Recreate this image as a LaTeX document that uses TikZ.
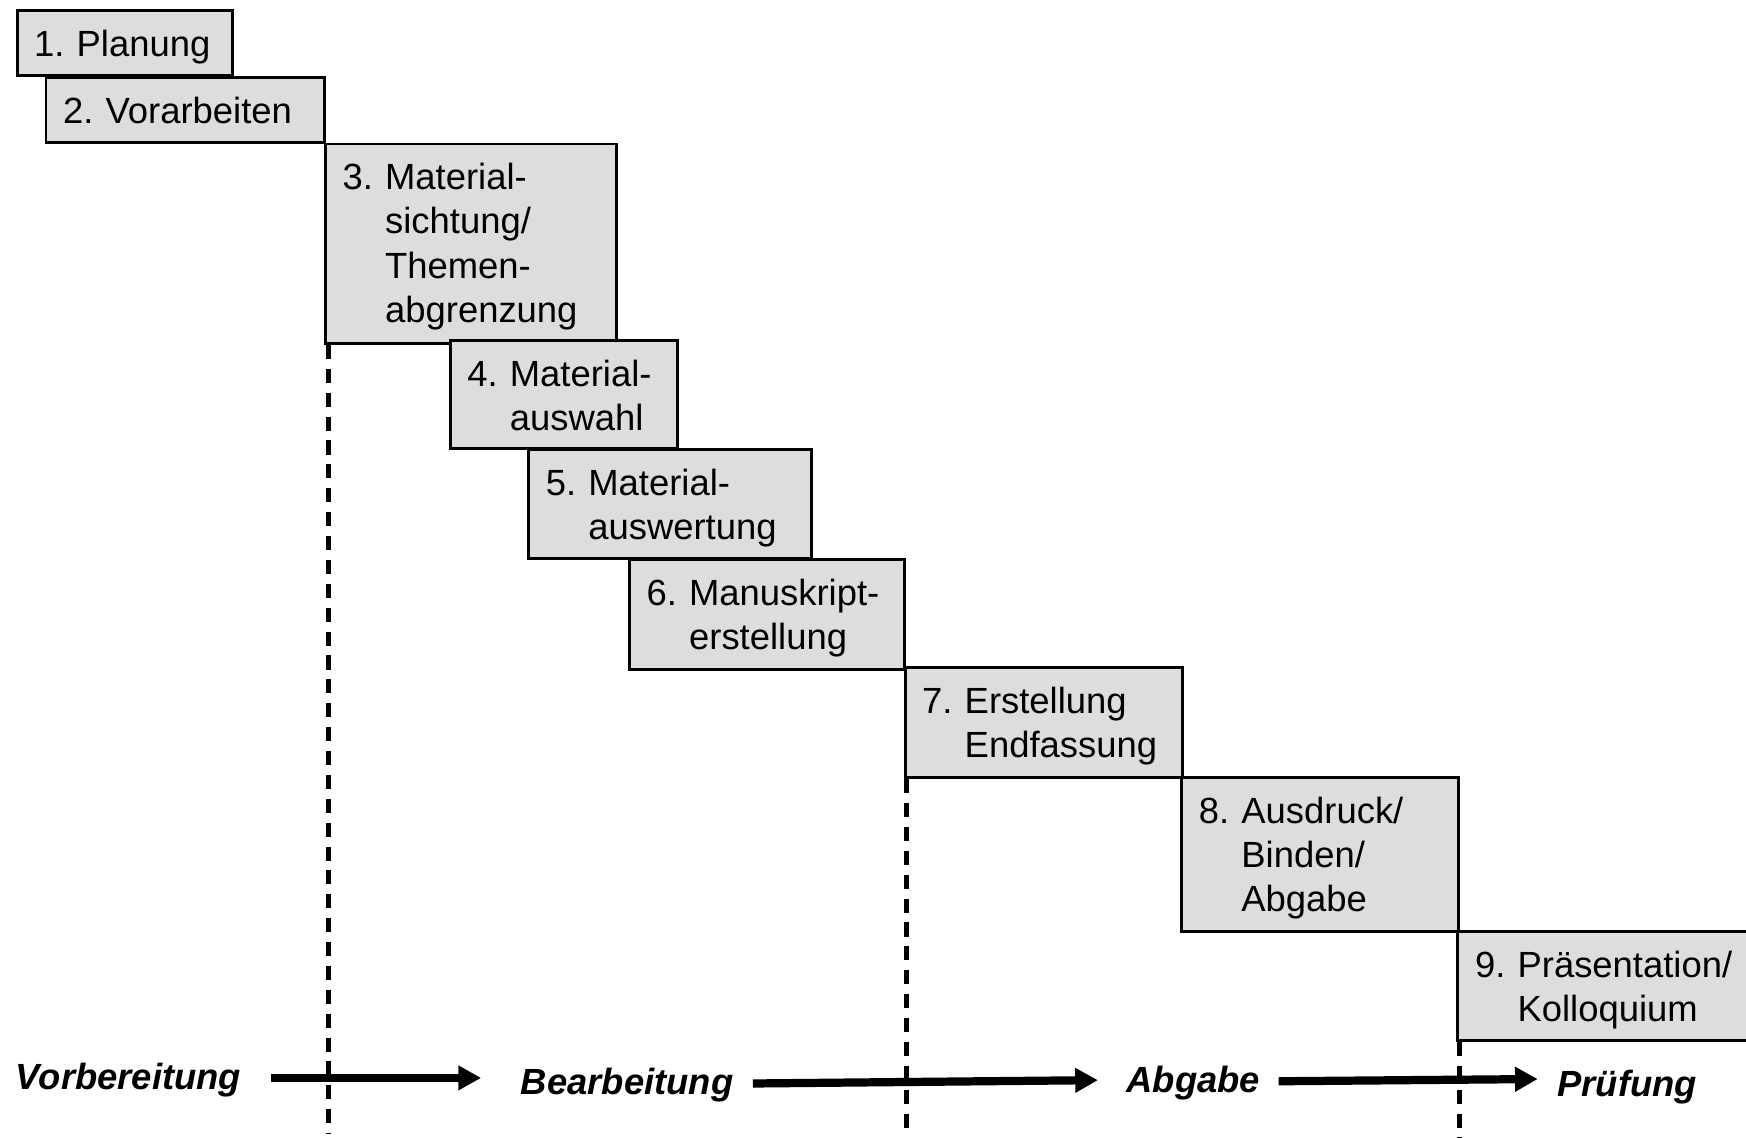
\documentclass[tikz,border=0pt]{standalone}
\usepackage{fontspec}
\setmainfont{Liberation Sans}
\usetikzlibrary{arrows.meta,calc}
\definecolor{boxgray}{RGB}{221,221,221}
\newcommand\stepfont{\frenchspacing\fontsize{9.3pt}{11.24pt}\selectfont}
\newcommand\stepfontwide{\frenchspacing\fontsize{9.3pt}{11.38pt}\selectfont}
\newcommand\phasefont{\frenchspacing\fontsize{9.3pt}{11pt}\selectfont\bfseries\itshape}
\newcommand\stepindent{\phantom{0. }}
\frenchspacing
\begin{document}
\begin{tikzpicture}[x=0.01cm,y=-0.01cm,
  stepbox/.style={draw=black, line width=0.75pt, fill=boxgray, inner sep=0pt, anchor=north west},
  steptext/.style={anchor=base west, inner sep=0pt, text width=6cm, align=left, font=\stepfont},
  phaselabel/.style={anchor=base west, inner sep=0pt, font=\phasefont},
  phaseline/.style={line width=1.2pt, dash pattern=on 3.6pt off 2.5pt},
  flowarrow/.style={line width=2.1pt, -{Triangle[length=5.8pt,width=6pt]}}]
\useasboundingbox (0,0) rectangle (1568,1022);

% steps
\node[stepbox, minimum width=1.93cm, minimum height=0.58cm] (b1) at (14,8.5) {};
\node[steptext] (t1) at ([shift={(16,42.5)}]b1.north west) {1. Planung};

\node[stepbox, minimum width=2.50cm, minimum height=0.59cm] (b2) at (40,68) {};
\node[steptext] (t2) at ([shift={(16,42.5)}]b2.north west) {2. Vorarbeiten};

\node[stepbox, minimum width=2.61cm, minimum height=1.79cm] (b3) at (291,128) {};
\node[steptext, font=\stepfontwide] (t3) at ([shift={(16,42)}]b3.north west)
  {3. Material-\\\stepindent sichtung/\\\stepindent Themen-\\\stepindent abgrenzung};

\node[stepbox, minimum width=2.04cm, minimum height=0.97cm] (b4) at (403,304.5) {};
\node[steptext] (t4) at ([shift={(16,42.5)}]b4.north west) {4. Material-\\\stepindent auswahl};

\node[stepbox, minimum width=2.54cm, minimum height=0.98cm] (b5) at (473.5,402.5) {};
\node[steptext] (t5) at ([shift={(16,42.5)}]b5.north west) {5. Material-\\\stepindent auswertung};

\node[stepbox, minimum width=2.47cm, minimum height=0.99cm] (b6) at (564,501) {};
\node[steptext] (t6) at ([shift={(16,42.5)}]b6.north west) {6. Manuskript-\\\stepindent erstellung};

\node[stepbox, minimum width=2.49cm, minimum height=0.99cm] (b7) at (811.5,598) {};
\node[steptext] (t7) at ([shift={(16,42.5)}]b7.north west) {7. Erstellung\\\stepindent Endfassung};

\node[stepbox, minimum width=2.48cm, minimum height=1.38cm] (b8) at (1060,697) {};
\node[steptext] (t8) at ([shift={(16,42.5)}]b8.north west) {8. Ausdruck/\\\stepindent Binden/\\\stepindent Abgabe};

\node[stepbox, minimum width=3.00cm, minimum height=0.98cm] (b9) at (1308,835) {};
\node[steptext] (t9) at ([shift={(16,42.5)}]b9.north west) {9. Präsentation/\\\stepindent Kolloquium};

% phase labels
\node[phaselabel] (vor) at (13.5,978) {Vorbereitung};
\node[phaselabel] (bea) at (467,983) {Bearbeitung};
\node[phaselabel] (abg) at (1011,981) {Abgabe};
\node[phaselabel] (pru) at (1398,985) {Prüfung};

% dashed phase boundaries
\coordinate (d1) at (295,1018);
\coordinate (d2) at (814,1015);
\coordinate (d3) at (1310.5,1022);
\draw[phaseline] (b3.south west -| d1) -- (d1);
\draw[phaseline] (b7.south west -| d2) -- (d2);
\draw[phaseline] (b9.south west -| d3) -- (d3);

% flow arrows
\draw[flowarrow] ($(vor.east)+(26,-1.5)$) -- ($(vor.east -| bea.west)+(-35,-1.5)$);
\draw[flowarrow] ($(bea.east)+(17,-1.5)$) -- ($(abg.west)+(-25,-2.5)$);
\draw[flowarrow] ($(abg.east)+(16,-1.5)$) -- ($(pru.west)+(-17,-7.5)$);
\end{tikzpicture}
\end{document}
